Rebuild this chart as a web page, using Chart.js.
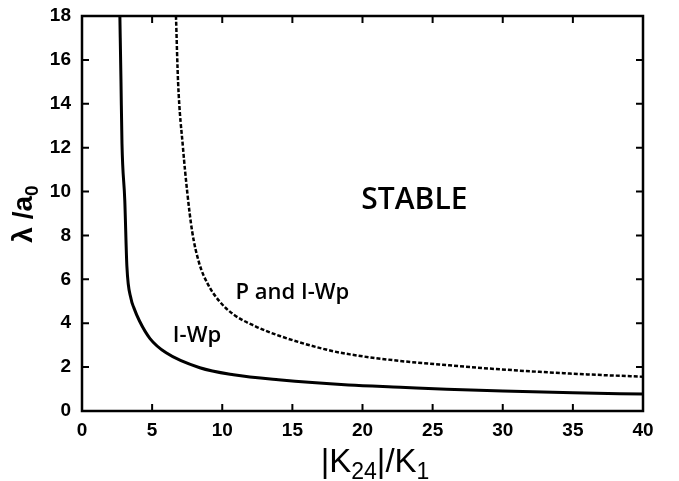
<!DOCTYPE html>
<html>
<head>
<meta charset="utf-8">
<script src="https://cdn.jsdelivr.net/npm/chart.js@4"></script>
<style>
  html, body { margin: 0; padding: 0; background: #fff; }
  #wrap { width: 679px; height: 481px; }
</style>
</head>
<body>
<div id="wrap"><canvas id="chart" width="679" height="481"></canvas></div>
<script>
// I-Wp curve (solid)
var solidX = [2.7, 2.78, 2.85, 3.05, 3.2, 3.5, 3.7, 4.1, 4.85, 6.0, 8.4, 10.8, 14.0, 19.0, 22.7, 26.0, 30.0, 35.0, 40.0];
var solidY = [18, 15, 12.2, 9.6, 6.6, 5.1, 4.7, 4.1, 3.3, 2.65, 1.97, 1.65, 1.42, 1.18, 1.08, 0.99, 0.91, 0.83, 0.77];

// P and I-Wp curve (dashed)
var dashedX = [6.7, 6.85, 7.2, 7.5, 7.85, 8.35, 9.0, 9.8, 10.8, 12.4, 14.1, 17.4, 19.1, 22.7, 26.2, 29.8, 35.0, 40.0];
var dashedY = [18, 15, 12, 10, 8.2, 6.75, 5.75, 5.0, 4.4, 3.85, 3.42, 2.8, 2.58, 2.28, 2.08, 1.9, 1.7, 1.56];

var xTicks = [0, 5, 10, 15, 20, 25, 30, 35, 40];
var yTicks = [0, 2, 4, 6, 8, 10, 12, 14, 16, 18];

// region labels, in data units
var regionLabels = [
  { text: "STABLE", x: 23.7, y: 9.6, size: 30 },
  { text: "P and I-Wp", x: 15.0, y: 5.4, size: 22 },
  { text: "I-Wp", x: 8.2, y: 3.45, size: 22 }
];

function toPoints(xs, ys) {
  return xs.map(function (x, i) { return { x: x, y: ys[i] }; });
}

// inward ticks on all four sides + frame + labels + axis titles
var decorPlugin = {
  id: "decor",
  afterDatasetsDraw: function (chart) {
    var ctx = chart.ctx;
    var a = chart.chartArea;
    var xs = chart.scales.x;
    var ys = chart.scales.y;
    var len = 7;
    ctx.save();
    ctx.strokeStyle = "#000";
    ctx.lineWidth = 2;
    xTicks.forEach(function (v) {
      var px = xs.getPixelForValue(v);
      ctx.beginPath();
      ctx.moveTo(px, a.bottom); ctx.lineTo(px, a.bottom - len);
      ctx.moveTo(px, a.top); ctx.lineTo(px, a.top + len);
      ctx.stroke();
    });
    yTicks.forEach(function (v) {
      var py = ys.getPixelForValue(v);
      ctx.beginPath();
      ctx.moveTo(a.left, py); ctx.lineTo(a.left + len, py);
      ctx.moveTo(a.right, py); ctx.lineTo(a.right - len, py);
      ctx.stroke();
    });
    ctx.lineWidth = 2.5;
    ctx.strokeRect(a.left, a.top, a.right - a.left, a.bottom - a.top);

    // region labels
    ctx.fillStyle = "#000";
    ctx.textAlign = "center";
    ctx.textBaseline = "middle";
    regionLabels.forEach(function (l) {
      ctx.font = "600 " + l.size + 'px "Open Sans"';
      ctx.fillText(l.text, xs.getPixelForValue(l.x), ys.getPixelForValue(l.y));
    });

    // x axis title |K24|/K1
    ctx.textAlign = "left";
    ctx.textBaseline = "alphabetic";
    var big = '33px "Liberation Sans"';
    var small = '23px "Liberation Sans"';
    var parts = [
      { t: "|K", f: big, dy: 0 },
      { t: "24", f: small, dy: 7 },
      { t: "|/K", f: big, dy: 0 },
      { t: "1", f: small, dy: 7 }
    ];
    var total = 0;
    parts.forEach(function (p) { ctx.font = p.f; total += ctx.measureText(p.t).width; });
    var cx = 375 - total / 2;
    var base = 472;
    parts.forEach(function (p) {
      ctx.font = p.f;
      ctx.fillText(p.t, cx, base + p.dy);
      cx += ctx.measureText(p.t).width;
    });

    // y axis title λ /a0
    ctx.translate(32, 214);
    ctx.rotate(-Math.PI / 2);
    var yparts = [
      { t: "\u03bb /a", f: 'bold 28px "Liberation Sans"', dy: 0 },
      { t: "0", f: 'bold 19px "Liberation Sans"', dy: 6 }
    ];
    total = 0;
    yparts.forEach(function (p) { ctx.font = p.f; total += ctx.measureText(p.t).width; });
    cx = -total / 2;
    yparts.forEach(function (p) {
      ctx.font = p.f;
      ctx.fillText(p.t, cx, p.dy);
      cx += ctx.measureText(p.t).width;
    });
    ctx.restore();
  }
};

var ctx = document.getElementById("chart").getContext("2d");
new Chart(ctx, {
  type: "scatter",
  data: {
    datasets: [
      {
        label: "I-Wp",
        data: toPoints(solidX, solidY),
        showLine: true,
        borderColor: "#000",
        borderWidth: 3,
        pointRadius: 0,
        cubicInterpolationMode: "monotone"
      },
      {
        label: "P and I-Wp",
        data: toPoints(dashedX, dashedY),
        showLine: true,
        borderColor: "#000",
        borderWidth: 2.5,
        borderDash: [4, 2],
        pointRadius: 0,
        cubicInterpolationMode: "monotone"
      }
    ]
  },
  options: {
    responsive: false,
    animation: false,
    layout: { padding: { top: 16, right: 36, left: 0, bottom: 0 } },
    plugins: {
      legend: { display: false },
      tooltip: { enabled: false }
    },
    scales: {
      x: {
        type: "linear",
        min: 0,
        max: 40,
        afterBuildTicks: function (s) { s.ticks = xTicks.map(function (v) { return { value: v }; }); },
        afterFit: function (s) { s.height = 70; s.paddingLeft = 0; s.paddingRight = 0; },
        grid: { display: false, drawTicks: false },
        border: { display: false },
        ticks: {
          padding: 8,
          color: "#000",
          font: { family: "Liberation Sans", weight: "bold", size: 19 }
        }
      },
      y: {
        type: "linear",
        min: 0,
        max: 18,
        afterBuildTicks: function (s) { s.ticks = yTicks.map(function (v) { return { value: v }; }); },
        afterFit: function (s) { s.width = 82; s.paddingTop = 0; s.paddingBottom = 0; },
        grid: { display: false, drawTicks: false },
        border: { display: false },
        ticks: {
          padding: 11,
          color: "#000",
          font: { family: "Liberation Sans", weight: "bold", size: 19 }
        }
      }
    }
  },
  plugins: [decorPlugin]
});
</script>
</body>
</html>
